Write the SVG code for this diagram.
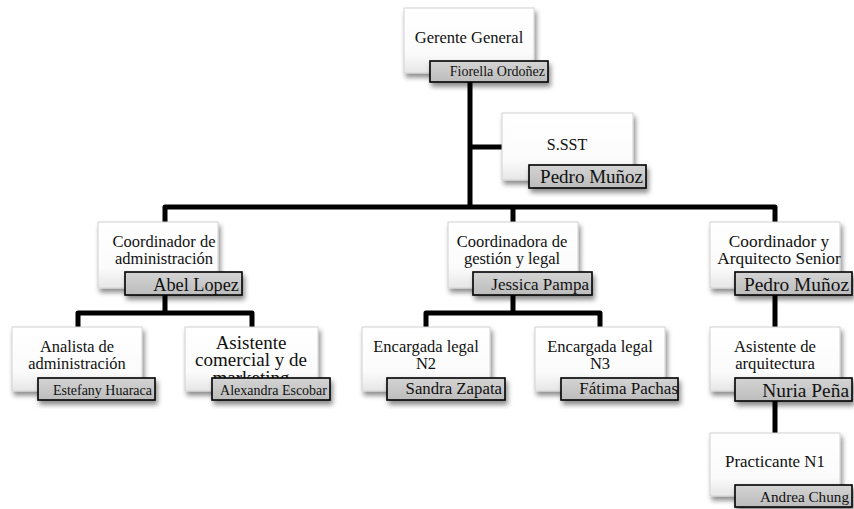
<svg xmlns="http://www.w3.org/2000/svg" width="854" height="509" viewBox="0 0 854 509">
<defs>
<linearGradient id="gBox" x1="0" y1="0" x2="0" y2="1"><stop offset="0" stop-color="#ffffff"/><stop offset="0.7" stop-color="#fbfbfb"/><stop offset="1" stop-color="#e6e6e6"/></linearGradient>
<linearGradient id="gLab" x1="0" y1="0" x2="0" y2="1"><stop offset="0" stop-color="#d4d4d4"/><stop offset="1" stop-color="#bcbcbc"/></linearGradient>
<filter id="sh" x="-20%" y="-20%" width="150%" height="160%"><feDropShadow dx="2" dy="4" stdDeviation="2.5" flood-color="#000" flood-opacity="0.45"/></filter>
</defs>
<style>
.box{fill:url(#gBox);stroke:#d2d2d2;stroke-width:1;filter:url(#sh)}
.lab{fill:url(#gLab);stroke:#000;stroke-width:1.6;filter:url(#sh)}
.t{font-family:"Liberation Serif","Times New Roman",serif;fill:#111;text-anchor:middle}
.n{font-family:"Liberation Serif","Times New Roman",serif;fill:#111;text-anchor:end}
.c{fill:none;stroke:#000;stroke-width:5;stroke-linejoin:round}
</style>
<rect width="854" height="509" fill="#fff"/>
<g id="connectors">
<path class="c" d="M470 70 V207"/>
<path class="c" d="M470 147 H504"/>
<path class="c" d="M165 224 V207 H775 V224"/>
<path class="c" d="M513 207 V224"/>
<path class="c" d="M165 290 V313 M78 329 V313 H252 V329"/>
<path class="c" d="M513 290 V313 M426 329 V313 H600 V329"/>
<path class="c" d="M775 290 V329 M775 398 V435"/>
</g>
<g id="gerente">
<rect class="box" x="404" y="8" width="130" height="65"/>
<text class="t" x="469" y="43" font-size="16.5">Gerente General</text>
<rect class="lab" x="430" y="61" width="118" height="21"/>
<text class="n" x="545" y="76" font-size="14">Fiorella Ordoñez</text>
</g>
<g id="sst">
<rect class="box" x="502" y="113" width="131" height="67"/>
<text class="t" x="567" y="150" font-size="16">S.SST</text>
<rect class="lab" x="529" y="165" width="117" height="23"/>
<text class="n" x="643" y="183" font-size="19">Pedro Muñoz</text>
</g>
<g id="coord-admin">
<rect class="box" x="98" y="222" width="120" height="66"/>
<text class="t" x="164" y="247" font-size="16.5">Coordinador de</text>
<text class="t" x="164" y="264" font-size="16.5">administración</text>
<rect class="lab" x="125" y="272" width="117" height="23"/>
<text class="n" x="239" y="291" font-size="18.3">Abel Lopez</text>
</g>
<g id="coord-gestion">
<rect class="box" x="448" y="222" width="130" height="66"/>
<text class="t" x="512" y="247" font-size="16.5">Coordinadora de</text>
<text class="t" x="512" y="264" font-size="16.5">gestión y legal</text>
<rect class="lab" x="473" y="272" width="119" height="23"/>
<text class="n" x="589" y="290" font-size="17">Jessica Pampa</text>
</g>
<g id="coord-arq">
<rect class="box" x="710" y="222" width="130" height="66"/>
<text class="t" x="779" y="247" font-size="17.3">Coordinador y</text>
<text class="t" x="779" y="264" font-size="17.3">Arquitecto Senior</text>
<rect class="lab" x="735" y="272" width="117" height="23"/>
<text class="n" x="849" y="291" font-size="19.4">Pedro Muñoz</text>
</g>
<g id="analista">
<rect class="box" x="12" y="327" width="130" height="64"/>
<text class="t" x="77" y="352" font-size="16.4">Analista de</text>
<text class="t" x="77" y="369" font-size="16.4">administración</text>
<rect class="lab" x="38" y="378" width="117" height="22"/>
<text class="n" x="152" y="395" font-size="14">Estefany Huaraca</text>
</g>
<g id="asistente-comercial">
<rect class="box" x="185" y="327" width="133" height="64"/>
<text class="t" x="251" y="349" font-size="19">Asistente</text>
<text class="t" x="251" y="366" font-size="19">comercial y de</text>
<text class="t" x="251" y="384" font-size="19">marketing</text>
<rect class="lab" x="212" y="378" width="118" height="22"/>
<text class="n" x="327" y="395" font-size="14">Alexandra Escobar</text>
</g>
<g id="encargada-n2">
<rect class="box" x="362" y="327" width="128" height="64"/>
<text class="t" x="426" y="352" font-size="16.5">Encargada legal</text>
<text class="t" x="426" y="369" font-size="16.5">N2</text>
<rect class="lab" x="387" y="378" width="118" height="22"/>
<text class="n" x="502" y="394" font-size="16.8">Sandra Zapata</text>
</g>
<g id="encargada-n3">
<rect class="box" x="535" y="327" width="130" height="64"/>
<text class="t" x="600" y="352" font-size="16.5">Encargada legal</text>
<text class="t" x="600" y="369" font-size="16.5">N3</text>
<rect class="lab" x="561" y="378" width="117" height="22"/>
<text class="n" x="678" y="394" font-size="17">Fátima Pachas</text>
</g>
<g id="asistente-arq">
<rect class="box" x="710" y="327" width="130" height="64"/>
<text class="t" x="775" y="352" font-size="16.7">Asistente de</text>
<text class="t" x="775" y="369" font-size="16.7">arquitectura</text>
<rect class="lab" x="735" y="378" width="117" height="23"/>
<text class="n" x="849" y="397" font-size="19.4">Nuria Peña</text>
</g>
<g id="practicante">
<rect class="box" x="710" y="433" width="130" height="63"/>
<text class="t" x="775" y="467" font-size="16.9">Practicante N1</text>
<rect class="lab" x="735" y="485" width="117" height="22"/>
<text class="n" x="849" y="502" font-size="15.2">Andrea Chung</text>
</g>
</svg>
